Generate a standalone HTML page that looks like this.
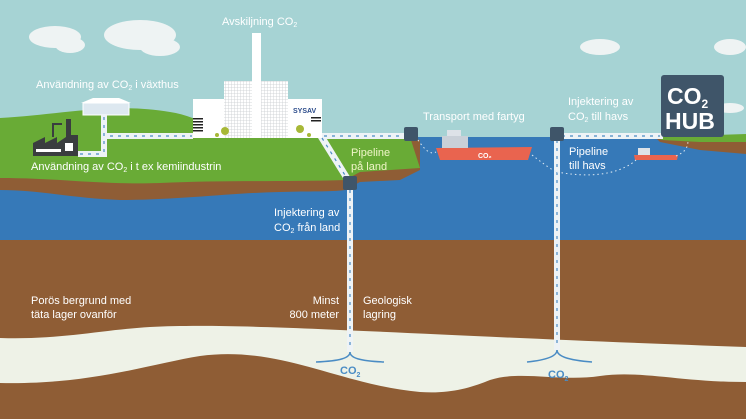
<!DOCTYPE html>
<html><head><meta charset="utf-8"><style>
html,body{margin:0;padding:0;background:#a6d3d4;}
svg{display:block;font-family:"Liberation Sans",sans-serif;}
</style></head><body>
<svg width="746" height="419" viewBox="0 0 746 419" xmlns="http://www.w3.org/2000/svg">
<defs>
<pattern id="grid" width="3" height="3" patternUnits="userSpaceOnUse"><rect width="3" height="3" fill="#fff"/><path d="M0 0H3M0 0V3" stroke="#c9ccd0" stroke-width="0.8"/></pattern>
</defs>
<rect width="746" height="419" fill="#a6d3d4"/>
<g fill="#eef3f3">
<ellipse cx="55" cy="37" rx="26" ry="11"/><ellipse cx="70" cy="45" rx="15" ry="8"/>
<ellipse cx="140" cy="35" rx="36" ry="15"/><ellipse cx="160" cy="47" rx="20" ry="9"/>
<ellipse cx="600" cy="47" rx="20" ry="8"/><ellipse cx="730" cy="47" rx="16" ry="8"/>
<ellipse cx="730" cy="108" rx="14" ry="5"/>
</g>
<rect x="0" y="137" width="746" height="104" fill="#3679b8"/>
<rect x="0" y="240" width="746" height="179" fill="#8f5d35"/>
<path d="M0 338 C60 340 100 330 150 327 C250 322 400 335 746 347 L746 382 C680 382 640 370 600 376 C560 382 520 370 490 380 C470 388 450 394 420 392 C340 385 280 345 200 356 C150 364 90 385 0 383 Z" fill="#eef2e7"/>
<path d="M0 190 C40 190 70 198 120 200 C180 200 230 193 280 192 C310 191 330 192 345 190 L360 182 L400 180 L420 170 L420 140 L405 137 L0 137 Z" fill="#8f5d35"/>
<path d="M0 118 C60 115 110 102 170 112 C190 115 210 125 230 135 L410 137 L420 168 L360 172 L345 180 C280 182 220 180 160 183 C100 185 60 178 0 178 Z" fill="#69ab36"/>
<path d="M655 137 L746 136 L746 154 L700 150 L660 142 Z" fill="#8f5d35"/>
<path d="M655 137 L746 134 L746 142 L700 142 L662 140 Z" fill="#69ab36"/>
<rect x="83" y="103" width="46" height="12" fill="#dde8f0" stroke="#fff"/>
<path d="M81 103 L93 98 L119 98 L131 103 Z" fill="#fff"/>
<g fill="#3a3d3f">
<rect x="33" y="143" width="45" height="13"/>
<path d="M33 143 L45 137 L45 143 L57 137 L57 143 L69 135 L78 135 L78 143 Z"/>
<rect x="66" y="119" width="5" height="24"/>
<rect x="52" y="123" width="10" height="2"/><rect x="52" y="123" width="2" height="14"/>
</g>
<g fill="#fff"><rect x="36" y="149" width="25" height="3"/><rect x="65" y="143" width="8" height="8"/></g>
<g fill="#eef3f6">
<rect x="101" y="115" width="6" height="42"/>
<rect x="78" y="151" width="29" height="6"/>
<rect x="107" y="133" width="86" height="6"/>
<rect x="322" y="133" width="85" height="6"/>
<path d="M318 138 L325 136 L352 180 L346 183 Z"/>
<rect x="347" y="188" width="6" height="164"/>
<rect x="554" y="138" width="6" height="212"/>
<rect x="560" y="133" width="103" height="6"/>
</g>
<g stroke="#4a8cc4" stroke-width="1.2" stroke-dasharray="3 5" fill="none">
<line x1="104" y1="117" x2="104" y2="154"/><line x1="80" y1="154" x2="104" y2="154"/>
<line x1="110" y1="136" x2="192" y2="136"/><line x1="324" y1="136" x2="404" y2="136"/>
<line x1="322" y1="138" x2="348" y2="180"/>
<line x1="350" y1="190" x2="350" y2="350"/><line x1="557" y1="140" x2="557" y2="348"/>
<line x1="562" y1="136" x2="660" y2="136"/>
</g>
<g stroke="#4a8cc4" stroke-width="1.5" fill="none">
<path d="M350 352 C350 358 340 361 316 362"/><path d="M350 352 C350 358 360 361 384 362"/>
<path d="M557 350 C557 356 547 360 527 362"/><path d="M557 350 C557 356 567 360 592 362"/>
</g>
<g fill="#4a8cc4" font-weight="bold" font-size="11"><text x="340" y="374">CO<tspan font-size="7" dy="3">2</tspan></text>
<text x="548" y="378">CO<tspan font-size="7" dy="3">2</tspan></text></g>
<g fill="#3f5569"><rect x="343" y="176" width="14" height="14" rx="2"/><rect x="404" y="127" width="14" height="14" rx="2"/><rect x="550" y="127" width="14" height="14" rx="2"/></g>
<rect x="193" y="99" width="31" height="39" fill="#fff"/>
<rect x="224" y="81" width="64" height="57" fill="url(#grid)"/>
<rect x="252" y="33" width="9" height="105" fill="#fff"/>
<rect x="288" y="99" width="34" height="39" fill="#fff"/>
<g fill="#222"><rect x="193" y="118" width="10" height="1.5"/><rect x="193" y="121" width="10" height="1.5"/><rect x="193" y="124" width="10" height="1.5"/><rect x="193" y="127" width="10" height="1.5"/><rect x="193" y="130" width="10" height="1.5"/><rect x="311" y="117" width="10" height="1.5"/><rect x="311" y="120" width="10" height="1.5"/></g>
<text x="293" y="113" font-size="7" font-weight="bold" fill="#2a4a8a">SYSAV</text>
<g fill="#a7b837"><circle cx="225" cy="131" r="4"/><circle cx="300" cy="129" r="4"/><circle cx="217" cy="135" r="2"/><circle cx="309" cy="135" r="2"/></g>
<path d="M436 148 L532 147 L528 160 L440 160 Z" fill="#e9644f"/>
<rect x="442" y="136" width="26" height="12" fill="#c9d0d8"/><rect x="447" y="130" width="14" height="6" fill="#dde2e8"/>
<text x="478" y="158" font-size="7" font-weight="bold" fill="#fff">CO₂</text>
<path d="M634 155 L678 155 L677 160 L635 160 Z" fill="#e9644f"/>
<rect x="638" y="148" width="12" height="7" fill="#dde2e8"/>
<g stroke="#dfeaf3" stroke-width="1" stroke-dasharray="1.5 3" fill="none">
<path d="M418 140 C425 150 430 155 436 152"/>
<path d="M532 155 C545 165 552 170 557 172"/>
<path d="M557 172 C600 180 625 170 636 160"/>
<path d="M676 156 C685 152 688 148 688 140"/>
</g>
<rect x="661" y="75" width="63" height="62" rx="3" fill="#3f5569"/>
<text x="667" y="104" font-size="23" font-weight="bold" fill="#fff">CO<tspan font-size="12" dy="4">2</tspan></text>
<text x="665" y="129" font-size="23" font-weight="bold" fill="#fff">HUB</text>
<g fill="#fff" font-size="11">
<text x="222" y="25">Avskiljning CO<tspan font-size="7" dy="2">2</tspan></text>
<text x="36" y="88">Användning av CO<tspan font-size="7" dy="2">2</tspan><tspan dy="-2"> i växthus</tspan></text>
<text x="31" y="170">Användning av CO<tspan font-size="7" dy="2">2</tspan><tspan dy="-2"> i t ex kemiindustrin</tspan></text>
<text x="423" y="120">Transport med fartyg</text>
<text x="568" y="105">Injektering av</text>
<text x="568" y="120">CO<tspan font-size="7" dy="2">2</tspan><tspan dy="-2"> till havs</tspan></text>
<text x="569" y="155">Pipeline</text><text x="569" y="169">till havs</text>
<text x="274" y="216">Injektering av</text>
<text x="274" y="231">CO<tspan font-size="7" dy="2">2</tspan><tspan dy="-2"> från land</tspan></text>
<text x="31" y="304">Porös bergrund med</text><text x="31" y="318">täta lager ovanför</text>
<text x="339" y="304" text-anchor="end">Minst</text><text x="339" y="318" text-anchor="end">800 meter</text>
<text x="363" y="304">Geologisk</text><text x="363" y="318">lagring</text>
</g>
<g fill="#f0f6c8" font-size="11"><text x="351" y="156">Pipeline</text><text x="351" y="170">på land</text></g>
</svg>
</body></html>
